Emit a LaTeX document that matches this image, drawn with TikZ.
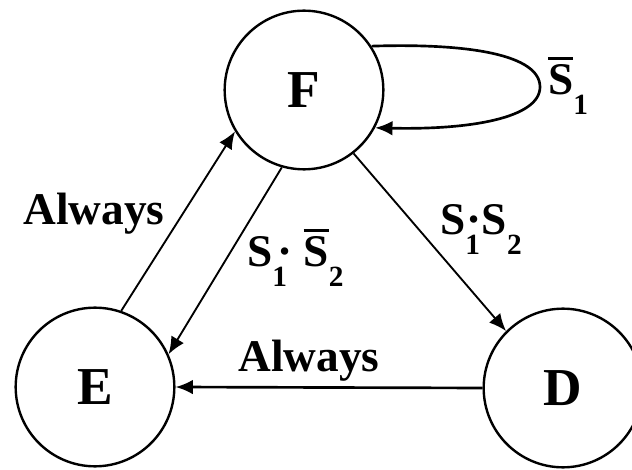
\documentclass[tikz,border=0pt]{standalone}
\usepackage{fontspec}
\setmainfont{Liberation Serif}
\usetikzlibrary{arrows.meta}
\newcommand\olS{\setbox0\hbox{S}\rlap{\raisebox{0.78em}{\rule{\wd0}{2pt}}}\box0}
\newcommand\subsc[1]{\raisebox{-15pt}{\fontsize{22}{22}\selectfont #1}}
\begin{document}
\begin{tikzpicture}[x=0.75pt,y=-0.75pt,
  state/.style={circle,draw,line width=1.8pt,minimum size=119pt,inner sep=0pt,
    font=\fontsize{40}{40}\selectfont\bfseries},
  lbl/.style={inner sep=0pt,font=\fontsize{34}{40}\selectfont\bfseries},
  arr/.style={-{Latex[length=13pt,width=11pt]},line width=1.4pt},
  thickarr/.style={-{Latex[length=13pt,width=11pt]},line width=2pt},
]
\useasboundingbox (0,0) rectangle (632,470);
\node[state] (F) at (304,90) {F};
\node[state] (E) at (95,387) {E};
\node[state] (D) at (563,388) {D};

\draw[thickarr] (F.33) .. controls (470,43) and (540,55) .. (540,87)
  .. controls (540,118) and (470,130) .. (F.-28);
\draw[arr] (E.71) -- (F.211);
\draw[arr] (F.254) -- (E.24);
\draw[arr] (F.-52) -- (D.135);
\draw[thickarr] (D.west) -- (E.east);

\node[lbl,anchor=base west] (l1) at (548,95) {\olS\subsc{1}};
\node[lbl,anchor=base] (l2) at (94,225) {Always};
\node[lbl,anchor=base west] (l3) at (247,267) {S\subsc{1}\kern-7pt·\kern8pt\olS\subsc{2}};
\node[lbl,anchor=base west] (l4) at (440,235) {S\rlap{\subsc{1}}\kern1pt·S\subsc{2}};
\node[lbl,anchor=base] (l5) at (309,372) {Always};
\end{tikzpicture}
\end{document}
